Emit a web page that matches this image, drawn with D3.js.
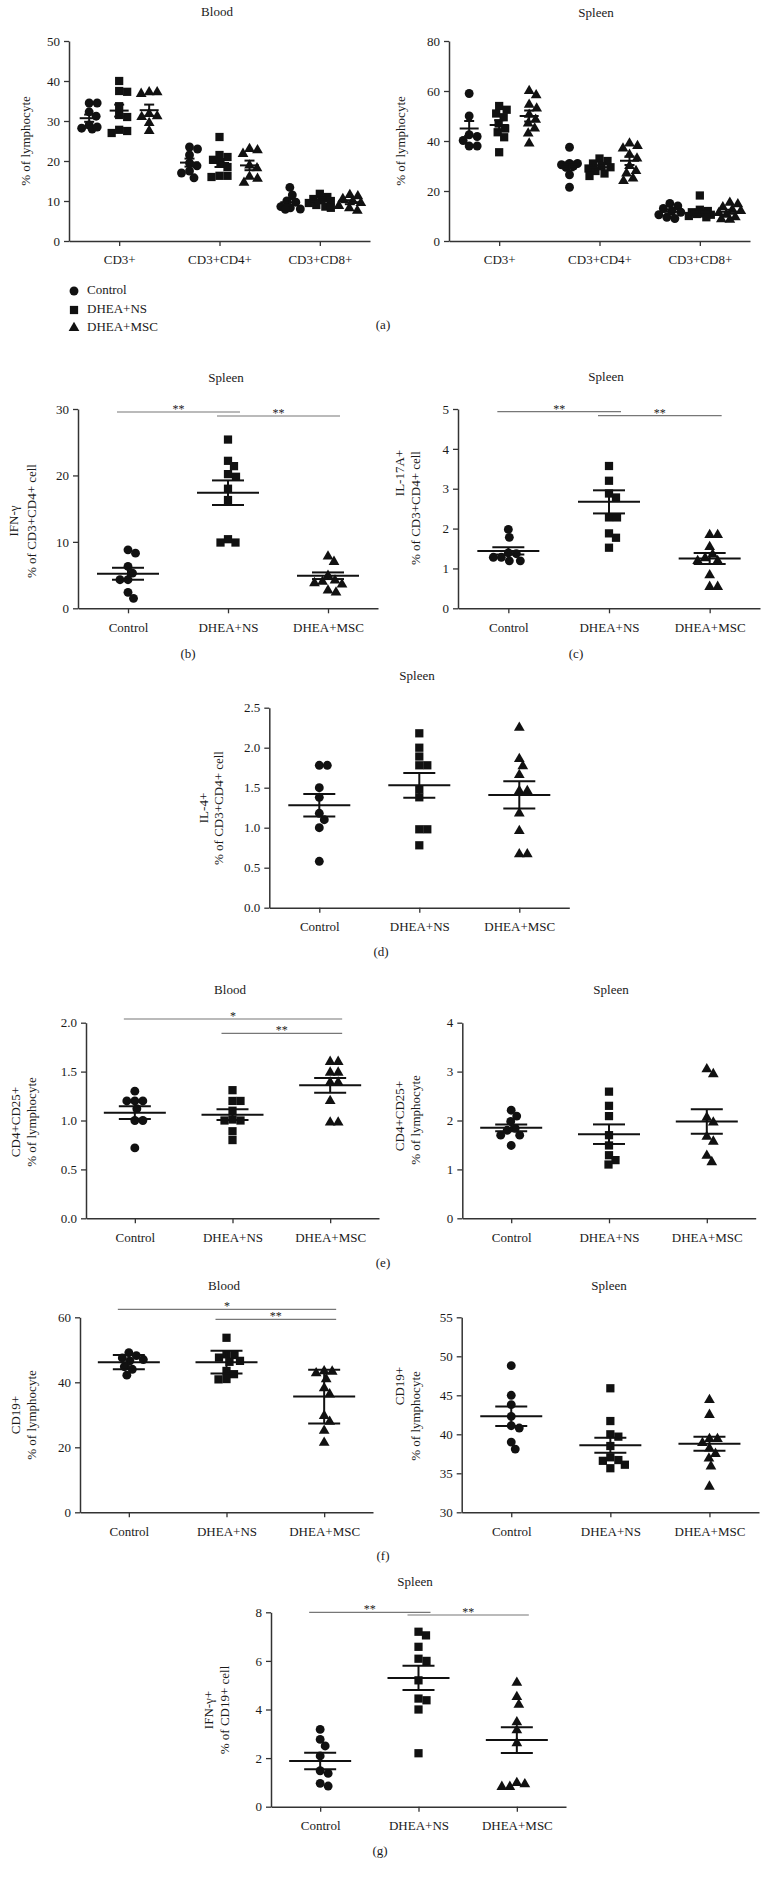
<!DOCTYPE html>
<html><head><meta charset="utf-8">
<script src="https://cdn.jsdelivr.net/npm/d3@7"></script>
<style>
body{margin:0;background:#fff}
svg{display:block}
text{font-family:"Liberation Serif","DejaVu Serif",serif;fill:#1a1a1a}
</style>
</head><body>
<svg id="chart" width="767" height="1879"></svg>
<script>
// ---------------- DATA ----------------
const groups = ["Control", "DHEA+NS", "DHEA+MSC"];
const subsets = ["CD3+", "CD3+CD4+", "CD3+CD8+"];

// (a) Blood: % of lymphocyte, per subset -> [Control, NS, MSC]
const aBloodCD3 = [[34.5,34.5,32.3,31.2,29,28,28.2,28.5],[40,37.5,37.3,33.7,31.5,31,27.5,27,27.8],[37.2,37.2,36.8,31.8,31.2,29.5,27.5,31]];
const aBloodCD4 = [[23,23.5,21.5,19.5,18.8,17.5,17,15.8],[26,21.5,21,20.3,19.5,18.5,16.3,16,16.3],[23,22.7,21.8,18.9,18.2,16.1,15.6,14.6]];
const aBloodCD8 = [[13.4,11.5,10,9.7,8.6,8.3,8,7.9],[11.8,11,10.5,10.2,10,9.5,9,8.6,8.3],[11.5,11.2,10.5,10,9.5,8.8,8.2,7.6]];
const aBloodMean = [[30.7,32.6,32.7],[19.6,19.5,18.9],[9.7,9.9,9.7]];
const aBloodSem  = [[0.9,1.5,1.4],[1.0,1.0,1.2],[0.7,0.4,0.5]];

// (a) Spleen
const aSpleenCD3 = [[59,50,42.5,41.8,40.2,38,38],[54,52.5,51,49.5,47,45,43.5,41.5,35.5],[60,58.3,54.5,53,50.5,48.5,47,45,43,39]];
const aSpleenCD4 = [[37.5,31,31,30.5,30,29.5,26.5,21.5],[33,32,31,30,29.5,29,28,27,26],[39,38,37,34.5,33,30,28,27,25,24]];
const aSpleenCD8 = [[15,14,13,12,11.5,10.5,9.5,9],[18.2,12.5,12,11.5,11,10.8,10.5,10,9.5],[15.3,14.7,13.5,12.5,12,11.2,10.5,9.5,8.7,8.5]];
const aSpleenMean = [[45.0,46.4,50.0],[29.9,29.5,32.1],[11.7,11.6,11.7]];
const aSpleenSem  = [[3.0,1.9,2.2],[1.6,0.8,1.7],[0.8,0.9,0.8]];

// (b) IFN-γ % of CD3+CD4+ cell (spleen)
const bValues = [[8.8,8.3,6.3,5.3,4.3,4.3,2.4,1.5],[25.4,22.2,21.4,20.2,19.8,18.0,16.3,10.4,9.9,9.9],[7.8,7.0,4.9,4.2,4.0,3.8,3.6,2.7,2.4]];
const bMean = [5.2,17.4,4.9];
const bSem = [0.9,1.85,0.5];
const bSig = [[0,1,"**"],[1,2,"**"]];

// (c) IL-17A+
const cValues = [[1.98,1.78,1.39,1.37,1.28,1.28,1.19,1.19],[3.57,3.2,2.88,2.78,2.28,2.28,1.88,1.77,1.52],[1.84,1.84,1.54,1.35,1.26,1.19,1.19,0.83,0.54,0.54]];
const cMean = [1.44,2.67,1.25];
const cSem = [0.09,0.29,0.14];
const cSig = [[0,1,"**"],[1,2,"**"]];

// (d) IL-4+
const dValues = [[1.78,1.78,1.5,1.38,1.18,1.1,1.0,0.58],[2.18,2.0,1.89,1.78,1.78,1.48,1.38,0.98,0.98,0.78],[2.25,1.86,1.77,1.66,1.46,1.46,1.18,0.96,0.67,0.67]];
const dMean = [1.28,1.53,1.41];
const dSem = [0.14,0.155,0.17];

// (e) CD4+CD25+ blood / spleen
const eBloodValues = [[1.3,1.2,1.2,1.2,1.12,1.0,1.0,0.72],[1.31,1.2,1.2,1.1,1.0,1.01,1.0,0.89,0.8],[1.6,1.6,1.49,1.49,1.39,1.39,1.2,0.98,0.98]];
const eBloodMean = [1.08,1.06,1.36];
const eBloodSem = [0.065,0.055,0.075];
const eBloodSig = [[0,2,"*"],[1,2,"**"]];
const eSpleenValues = [[2.21,2.09,1.98,1.84,1.8,1.7,1.7,1.49],[2.59,2.3,2.09,1.7,1.49,1.29,1.19,1.1],[3.05,2.95,2.06,1.96,1.67,1.57,1.28,1.15]];
const eSpleenMean = [1.85,1.72,1.98];
const eSpleenSem = [0.07,0.2,0.25];

// (f) CD19+ blood / spleen
const fBloodValues = [[49.1,48.2,47.5,47.0,46.6,44.8,44.0,42.2],[53.7,48.6,48.4,47.6,46.6,46.3,43.5,42.5,41.0,40.9],[43.4,43.3,42.8,41.0,38.2,36.3,29.7,27.9,25.1,21.4]];
const fBloodMean = [46.2,46.2,35.6];
const fBloodErr = [2.2,3.5,8.3];
const fBloodSig = [[0,2,"*"],[1,2,"**"]];
const fSpleenValues = [[48.8,45.0,43.8,42.3,41.1,40.8,39.0,38.1],[45.9,41.7,40.0,39.7,38.5,37.05,36.7,36.6,36.1,35.65],[44.4,42.5,39.4,39.4,38.9,38.2,37.5,36.9,35.9,33.3]];
const fSpleenMean = [42.3,38.6,38.8];
const fSpleenSem = [1.25,0.95,0.9];

// (g) IFN-γ+ % of CD19+ cell
const gValues = [[3.18,2.77,2.5,2.09,1.48,1.37,0.96,0.85],[7.2,7.05,6.58,6.09,6.0,5.2,4.45,4.38,4.0,2.2],[5.1,4.52,4.2,3.48,3.15,2.62,0.98,0.93,0.82,0.82]];
const gMean = [1.88,5.3,2.74];
const gSem = [0.34,0.5,0.53];
const gSig = [[0,1,"**"],[1,2,"**"]];

// ---------------- DRAWING ----------------
const svg = d3.select("#chart");
svg.append("rect").attr("width", 767).attr("height", 1879).attr("fill", "#fff");

const INK = "#111";
const AXIS = "#333";
const FS = 13;
const symbolTypes = [d3.symbolCircle, d3.symbolSquare, d3.symbolTriangle];
const symbolSizes = [62, 68, 50];

function swarm(ys, diam, maxOff) {
  const n = ys.length, xs = new Array(n), placed = [];
  const order = d3.range(n).sort((a, b) => ys[a] - ys[b]);
  const cands = [0];
  for (let s = 0.5; s <= maxOff; s += 0.5) cands.push(s, -s);
  for (const i of order) {
    let best = 0, bestD = -1;
    for (const c of cands) {
      let minD = Infinity;
      for (const p of placed) {
        const d = Math.hypot(c - p.x, ys[i] - p.y);
        if (d < minD) minD = d;
      }
      if (minD >= diam) { best = c; break; }
      if (minD > bestD) { bestD = minD; best = c; }
    }
    xs[i] = best;
    placed.push({x: best, y: ys[i]});
  }
  return xs;
}

function drawMarks(g, values, cx, y, gi, maxOff) {
  const ys = values.map(v => y(v));
  const offs = swarm(ys, 8, maxOff);
  g.append("g").selectAll("path").data(values).join("path")
    .attr("d", d3.symbol(symbolTypes[gi], symbolSizes[gi]))
    .attr("transform", (d, i) => `translate(${cx + offs[i]},${ys[i]})`)
    .attr("fill", INK);
}

function drawStat(g, cx, y, mean, err, halfMean, halfCap) {
  const s = g.append("g").attr("stroke", INK).attr("stroke-width", 2).attr("fill", "none");
  s.append("line").attr("x1", cx - halfMean).attr("x2", cx + halfMean).attr("y1", y(mean)).attr("y2", y(mean));
  s.append("line").attr("x1", cx).attr("x2", cx).attr("y1", y(mean - err)).attr("y2", y(mean + err));
  s.append("line").attr("x1", cx - halfCap).attr("x2", cx + halfCap).attr("y1", y(mean + err)).attr("y2", y(mean + err));
  s.append("line").attr("x1", cx - halfCap).attr("x2", cx + halfCap).attr("y1", y(mean - err)).attr("y2", y(mean - err));
}

function styleAxis(g) {
  g.select(".domain").attr("stroke", AXIS).attr("stroke-width", 1.5);
  g.selectAll(".tick line").attr("stroke", AXIS).attr("stroke-width", 1.3);
  g.selectAll(".tick text").attr("font-size", FS).attr("font-family", '"Liberation Serif",serif').attr("fill", "#1a1a1a");
}

function text(x, y, t, opts = {}) {
  return svg.append("text").attr("x", x).attr("y", y)
    .attr("text-anchor", opts.anchor || "middle")
    .attr("dominant-baseline", opts.baseline || "middle")
    .attr("font-size", opts.size || FS)
    .attr("fill", opts.fill || "#1a1a1a")
    .text(t);
}

function panel(cfg) {
  const g = svg.append("g");
  const y = d3.scaleLinear().domain(cfg.domain).range([cfg.yBottom, cfg.yTop]);
  const x = d3.scalePoint().domain(cfg.cats).range([cfg.x0, cfg.x1]).padding(0.5);
  const gx = g.append("g").attr("transform", `translate(0,${cfg.yBottom})`)
    .call(d3.axisBottom(x).tickSize(5).tickSizeOuter(0).tickPadding(9));
  styleAxis(gx);
  const gy = g.append("g").attr("transform", `translate(${cfg.x0},0)`)
    .call(d3.axisLeft(y).tickValues(cfg.ticks).tickFormat(cfg.fmt || d3.format("d")).tickSize(5).tickSizeOuter(0).tickPadding(4));
  styleAxis(gy);
  text(cfg.title[1], cfg.title[2], cfg.title[0]);
  cfg.ylab.forEach(l => {
    svg.append("text").attr("transform", `translate(${l[1]},${l[2]}) rotate(-90)`)
      .attr("text-anchor", "middle").attr("dominant-baseline", "middle")
      .attr("font-size", FS).attr("fill", "#1a1a1a").text(l[0]);
  });
  return {g, x, y};
}

function groupPanel(cfg, values, means, errs, sig) {
  const p = panel(Object.assign({cats: groups}, cfg));
  groups.forEach((gr, gi) => drawMarks(p.g, values[gi], p.x(gr), p.y, gi, 24));
  groups.forEach((gr, gi) => drawStat(p.g, p.x(gr), p.y, means[gi], errs[gi], 31, 16));
  if (sig) {
    sig.forEach((s, k) => {
      const yy = cfg.sigY[k];
      const xa = p.x(groups[s[0]]) - 11, xb = p.x(groups[s[1]]) + 12;
      p.g.append("line").attr("x1", xa).attr("x2", xb).attr("y1", yy).attr("y2", yy)
        .attr("stroke", "#777").attr("stroke-width", 1.2);
      p.g.append("text").attr("x", (xa + xb) / 2).attr("y", yy + 1)
        .attr("text-anchor", "middle").attr("font-size", 12).attr("fill", "#666").text(s[2]);
    });
  }
  return p;
}

function subsetPanel(cfg, valuesBySubset, means, errs) {
  const p = panel(Object.assign({cats: subsets}, cfg));
  const off = d3.scalePoint().domain(groups).range([-30, 30]);
  subsets.forEach((sub, si) => {
    groups.forEach((gr, gi) => drawMarks(p.g, valuesBySubset[si][gi], p.x(sub) + off(gr), p.y, gi, 11));
  });
  subsets.forEach((sub, si) => {
    groups.forEach((gr, gi) => drawStat(p.g, p.x(sub) + off(gr), p.y, means[si][gi], errs[si][gi], 9.5, 5));
  });
  return p;
}

// ----- (a)
subsetPanel({x0: 69, x1: 370, yTop: 41, yBottom: 241, domain: [0, 50], ticks: [0,10,20,30,40,50],
  title: ["Blood", 217, 13], ylab: [["% of lymphocyte", 27, 141]]},
  [aBloodCD3, aBloodCD4, aBloodCD8], aBloodMean, aBloodSem);
subsetPanel({x0: 449, x1: 750, yTop: 41, yBottom: 241, domain: [0, 80], ticks: [0,20,40,60,80],
  title: ["Spleen", 596, 14], ylab: [["% of lymphocyte", 402, 141]]},
  [aSpleenCD3, aSpleenCD4, aSpleenCD8], aSpleenMean, aSpleenSem);

const legY = [291, 310, 328];
groups.forEach((gr, gi) => {
  svg.append("path").attr("d", d3.symbol(symbolTypes[gi], symbolSizes[gi]))
    .attr("transform", `translate(74,${legY[gi]})`).attr("fill", INK);
  text(87, legY[gi], gr, {anchor: "start"});
});
text(383, 326, "(a)");

// ----- (b), (c)
groupPanel({x0: 78, x1: 378, yTop: 409, yBottom: 608.3, domain: [0, 30], ticks: [0,10,20,30],
  title: ["Spleen", 226, 379], ylab: [["IFN-γ", 15, 521], ["% of CD3+CD4+ cell", 33, 521]], sigY: [412, 416]},
  bValues, bMean, bSem, bSig);
text(188, 655, "(b)");
groupPanel({x0: 458, x1: 760, yTop: 409, yBottom: 608.3, domain: [0, 5], ticks: [0,1,2,3,4,5],
  title: ["Spleen", 606, 378], ylab: [["IL-17A+", 401, 473], ["% of CD3+CD4+ cell", 417, 508]], sigY: [411.7, 415.7]},
  cValues, cMean, cSem, cSig);
text(576, 655, "(c)");

// ----- (d)
groupPanel({x0: 269.3, x1: 569.3, yTop: 707.7, yBottom: 907.7, domain: [0, 2.5], ticks: [0,0.5,1,1.5,2,2.5], fmt: d3.format(".1f"),
  title: ["Spleen", 417, 677], ylab: [["IL-4+", 205, 808], ["% of CD3+CD4+ cell", 220, 808]]},
  dValues, dMean, dSem, null);
text(381, 953, "(d)");

// ----- (e)
groupPanel({x0: 86, x1: 379, yTop: 1022.7, yBottom: 1218.3, domain: [0, 2], ticks: [0,0.5,1,1.5,2], fmt: d3.format(".1f"),
  title: ["Blood", 230, 991], ylab: [["CD4+CD25+", 17, 1122], ["% of lymphocyte", 33, 1122]], sigY: [1019, 1033.3]},
  eBloodValues, eBloodMean, eBloodSem, eBloodSig);
groupPanel({x0: 462.3, x1: 755.7, yTop: 1022.7, yBottom: 1218.3, domain: [0, 4], ticks: [0,1,2,3,4],
  title: ["Spleen", 611, 991], ylab: [["CD4+CD25+", 401, 1116], ["% of lymphocyte", 417, 1120]]},
  eSpleenValues, eSpleenMean, eSpleenSem, null);
text(383, 1264, "(e)");

// ----- (f)
groupPanel({x0: 80, x1: 373, yTop: 1317.3, yBottom: 1512.3, domain: [0, 60], ticks: [0,20,40,60],
  title: ["Blood", 224, 1287], ylab: [["CD19+", 17, 1415], ["% of lymphocyte", 33, 1415]], sigY: [1309.3, 1319.3]},
  fBloodValues, fBloodMean, fBloodErr, fBloodSig);
groupPanel({x0: 461.7, x1: 759, yTop: 1317.3, yBottom: 1512.3, domain: [30, 55], ticks: [30,35,40,45,50,55],
  title: ["Spleen", 609, 1287], ylab: [["CD19+", 401, 1386], ["% of lymphocyte", 417, 1416]]},
  fSpleenValues, fSpleenMean, fSpleenSem, null);
text(383, 1557, "(f)");

// ----- (g)
groupPanel({x0: 271, x1: 566, yTop: 1612.3, yBottom: 1806.7, domain: [0, 8], ticks: [0,2,4,6,8],
  title: ["Spleen", 415, 1583], ylab: [["IFN-γ+", 210, 1710], ["% of CD19+ cell", 226, 1710]], sigY: [1612.3, 1615]},
  gValues, gMean, gSem, gSig);
text(380, 1852, "(g)");
</script>
</body></html>
